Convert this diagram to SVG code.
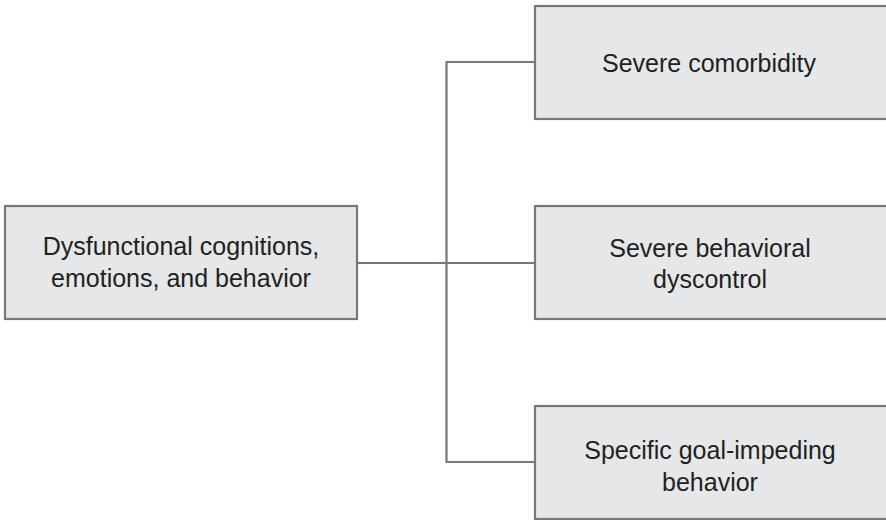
<svg xmlns="http://www.w3.org/2000/svg" width="886" height="520" viewBox="0 0 886 520">
<style>
.box{fill:#e6e7e8;stroke:#77787b;stroke-width:2.2}
.lbl{font-family:"Liberation Sans",Arial,sans-serif;font-size:25px;fill:#231f20;text-anchor:middle}
.conn{fill:none;stroke:#77787b;stroke-width:2.2}
</style>
<rect width="886" height="520" fill="#ffffff"/>
<g id="connectors">
<path class="conn" d="M357 263 H535"/>
<path class="conn" d="M535 62 H446.5 V462 H535"/>
</g>
<g id="node-dysfunctional">
<rect class="box" x="5" y="206" width="352" height="113"/>
<text class="lbl" x="181" y="255">Dysfunctional cognitions,</text>
<text class="lbl" x="181" y="287">emotions, and behavior</text>
</g>
<g id="node-comorbidity">
<rect class="box" x="535" y="6" width="360" height="113"/>
<text class="lbl" x="709" y="72">Severe comorbidity</text>
</g>
<g id="node-dyscontrol">
<rect class="box" x="535" y="206" width="360" height="113"/>
<text class="lbl" x="710" y="257">Severe behavioral</text>
<text class="lbl" x="710" y="288">dyscontrol</text>
</g>
<g id="node-goal">
<rect class="box" x="535" y="406" width="360" height="113"/>
<text class="lbl" x="710" y="459">Specific goal-impeding</text>
<text class="lbl" x="710" y="491">behavior</text>
</g>
</svg>
